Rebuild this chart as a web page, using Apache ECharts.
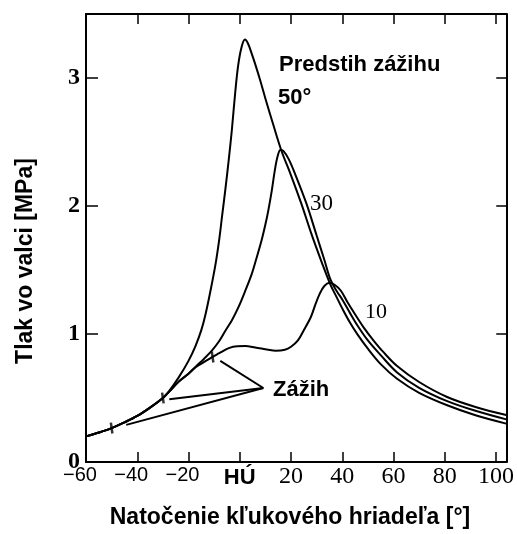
<!DOCTYPE html>
<html><head><meta charset="utf-8">
<script src="https://cdn.jsdelivr.net/npm/echarts@6/dist/echarts.min.js"></script>
<style>html,body{margin:0;padding:0;background:#fff}#c{width:517px;height:534px}</style>
</head><body><div id="c"></div>
<script>
// Common compression curve (crank angle [deg], pressure [MPa])
const compression = [[-60,0.20],[-55,0.23],[-50,0.265],[-45,0.31],[-40,0.36],[-35,0.425],[-30,0.50]];
// Ignition advance 50 deg
const advance50 = [[-27.5,0.555],[-23.7,0.665],[-20,0.79],[-17.2,0.91],[-15,1.03],[-13.4,1.15],[-11.5,1.33],[-9.5,1.54],[-8,1.74],[-6.9,1.92],[-5.5,2.15],[-4.3,2.36],[-3.1,2.59],[-1.8,2.88],[-0.6,3.10],[0.7,3.24],[2,3.30],[3.2,3.27],[4.5,3.20],[6,3.11],[8,2.98],[10,2.84],[13,2.64],[16.3,2.43],[20,2.24],[24,2.02],[28,1.78],[32,1.56],[35.3,1.39],[38,1.28],[40,1.20],[43,1.09],[46,0.995],[50,0.885],[55,0.765],[61.4,0.65],[70,0.54],[80.7,0.445],[92,0.365],[104,0.30]];
// Ignition advance 30 deg
const advance30 = [[-27.5,0.55],[-23.7,0.63],[-20,0.69],[-17.2,0.745],[-14,0.805],[-10.8,0.872],[-8,0.945],[-5.6,1.025],[-3,1.11],[-0.5,1.21],[2,1.33],[4.7,1.47],[6.5,1.59],[8.5,1.73],[10,1.855],[11.1,1.96],[12.5,2.12],[13.7,2.28],[14.8,2.39],[15.9,2.44],[17,2.43],[19,2.37],[21.4,2.26],[26,2.02],[30,1.77],[33,1.58],[35.5,1.42],[38,1.33],[40,1.27],[43,1.165],[46,1.065],[50,0.95],[55,0.835],[61.4,0.70],[70,0.58],[80.7,0.478],[92,0.40],[104,0.333]];
// Ignition advance 10 deg
const advance10 = [[-27.5,0.55],[-23.7,0.63],[-20,0.69],[-17.2,0.74],[-14,0.78],[-10.8,0.82],[-8,0.85],[-4.3,0.89],[-1,0.905],[2.1,0.906],[6,0.895],[11.1,0.877],[14,0.87],[17.6,0.877],[20,0.90],[22.7,0.95],[25,1.03],[27.8,1.135],[29.5,1.23],[31.1,1.31],[33,1.375],[35,1.40],[37,1.385],[39.4,1.34],[42,1.25],[44.5,1.17],[48.4,1.05],[52,0.955],[56,0.86],[61.4,0.75],[70,0.625],[80.7,0.51],[92,0.43],[104,0.367]];
// Ignition points (marked with short ticks)
const ignitionPoints = [[-50,0.265],[-30,0.50],[-10.6,0.82]];
// "Zážih" pointer: meeting point and the ends at the ignition points
const pointerTip = [9.2,0.578];
const pointerEnds = [[-7.6,0.79],[-27.5,0.49],[-44.3,0.29]];
// Tick labels
const xTickValues = [-60,-40,-20,0,20,40,60,80,100];
const xTickLabels = ['−60','−40','−20','HÚ','20','40','60','80','100'];
const yTickValues = [0,1,2,3];
const yTickLabels = ['0','1','2','3'];

const chart = echarts.init(document.getElementById('c'), null, {renderer:'canvas'});
const black = '#000';
const lineSeries = (name, pts) => ({
  name, type:'line', data: compression.concat(pts), showSymbol:false, smooth:0.35,
  lineStyle:{color:black, width:2}, silent:true, z:3
});
const series = [
  lineSeries('50°', advance50),
  lineSeries('30°', advance30),
  lineSeries('10°', advance10),
  {type:'scatter', data: ignitionPoints, symbol:'rect', symbolSize:[2.5,11], symbolRotate:8,
   itemStyle:{color:black}, silent:true, z:4}
].concat(pointerEnds.map(e => ({type:'line', data:[pointerTip, e], showSymbol:false,
   lineStyle:{color:black, width:2}, silent:true, z:3})));

const xFmt = v => {
  const i = xTickValues.indexOf(v);
  if (i < 0) return '';
  const s = xTickLabels[i];
  if (v < 0) return '{m|−}{d|' + s.slice(1) + '}{p|}';
  if (v === 0) return '{h|' + s + '}';
  return '{s|' + s + '}';
};
const yFmt = v => { const i = yTickValues.indexOf(v); return i < 0 ? '' : yTickLabels[i]; };

const axisLine = {show:true, onZero:false, lineStyle:{color:black, width:2}};
const option = {
  backgroundColor:'#fff',
  animation:false,
  grid:{left:86, right:6, top:14, bottom:72},
  xAxis:[
    {type:'value', min:-60, max:104, interval:20, position:'bottom',
     axisLine, splitLine:{show:false},
     axisTick:{inside:true, length:10, lineStyle:{color:black, width:1.5}},
     axisLabel:{formatter:xFmt, margin:3, showMaxLabel:false, color:black,
       rich:{
         m:{fontFamily:'Liberation Sans', fontSize:20, color:black},
         d:{fontFamily:'Liberation Sans', fontSize:20, color:black},
         p:{width:12},
         h:{fontFamily:'Liberation Sans', fontWeight:'bold', fontSize:22, lineHeight:26, color:black},
         s:{fontFamily:'Liberation Serif', fontSize:24, color:black}
       }}
    },
    {type:'value', min:-60, max:104, interval:20, position:'top',
     axisLine, splitLine:{show:false},
     axisTick:{inside:true, length:10, lineStyle:{color:black, width:1.5}},
     axisLabel:{show:false}}
  ],
  yAxis:[
    {type:'value', min:0, max:3.5, interval:1, position:'left',
     axisLine, splitLine:{show:false},
     axisTick:{inside:true, length:12, lineStyle:{color:black, width:1.5}},
     axisLabel:{formatter:yFmt, margin:6, showMaxLabel:false, color:black,
       fontFamily:'Liberation Serif', fontWeight:'bold', fontSize:24}
    },
    {type:'value', min:0, max:3.5, interval:1, position:'right',
     axisLine, splitLine:{show:false},
     axisTick:{inside:true, length:10, lineStyle:{color:black, width:1.5}},
     axisLabel:{show:false}}
  ],
  series,
  graphic:[
    {type:'text', x:26, y:261, rotation:Math.PI/2, style:{text:'Tlak vo valci [MPa]', font:'bold 23px "Liberation Sans"', fill:black, textAlign:'center', textVerticalAlign:'middle'}},
    {type:'text', x:290, y:518, style:{text:'Natočenie kľukového hriadeľa [°]', font:'bold 23px "Liberation Sans"', fill:black, textAlign:'center', textVerticalAlign:'middle'}},
    {type:'text', x:279, y:65, style:{text:'Predstih zážihu', font:'bold 22px "Liberation Sans"', fill:black, textVerticalAlign:'middle'}},
    {type:'text', x:278, y:98, style:{text:'50°', font:'bold 22px "Liberation Sans"', fill:black, textVerticalAlign:'middle'}},
    {type:'text', x:310, y:204, style:{text:'30', font:'23px "Liberation Serif"', fill:black, textVerticalAlign:'middle'}},
    {type:'text', x:365, y:312, style:{text:'10', font:'22px "Liberation Serif"', fill:black, textVerticalAlign:'middle'}},
    {type:'text', x:273, y:390, style:{text:'Zážih', font:'bold 22px "Liberation Sans"', fill:black, textVerticalAlign:'middle'}}
  ]
};
chart.setOption(option);
</script></body></html>
